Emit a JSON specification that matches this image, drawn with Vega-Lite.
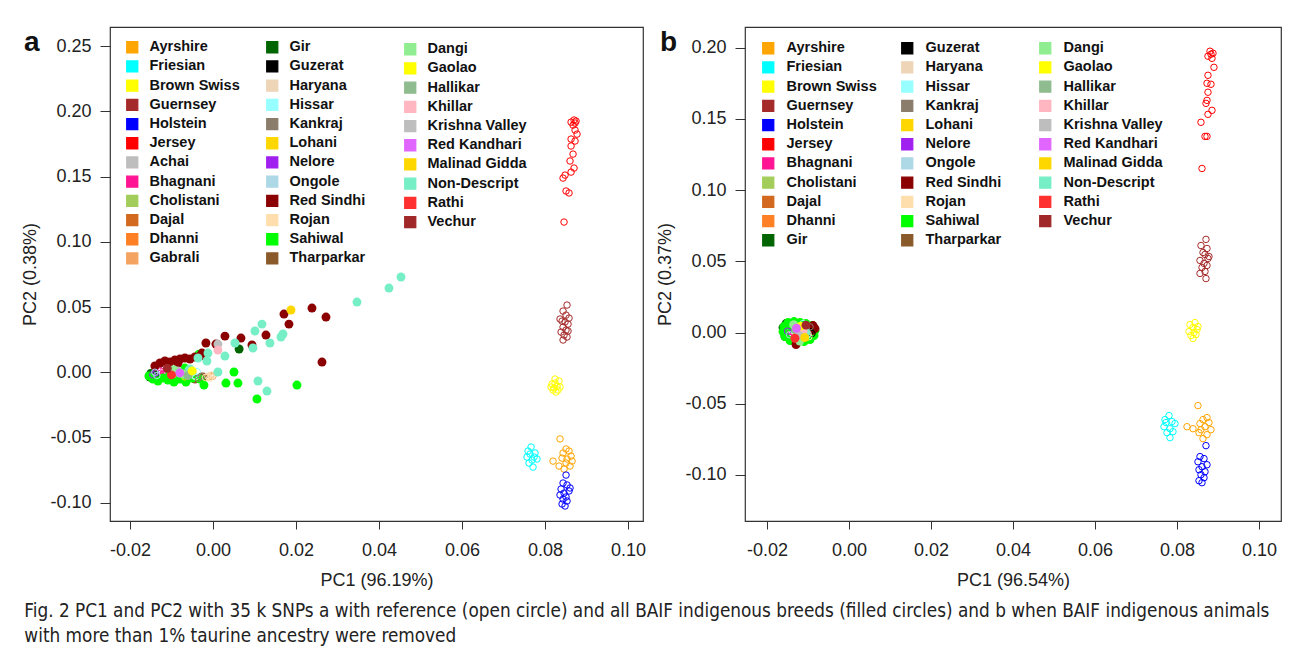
{
"$schema": "https://vega.github.io/schema/vega-lite/v6.json",
"padding": {"left": 21, "top": 26, "right": 8, "bottom": 2},
"background": "white",
"title": {"text": ["Fig. 2  PC1 and PC2 with 35 k SNPs a with reference (open circle) and all BAIF indigenous breeds (filled circles) and b when BAIF indigenous animals", "with more than 1% taurine ancestry were removed"], "orient": "bottom", "anchor": "start", "frame": "bounds", "dx": 3, "font": "'Liberation Sans Narrow', 'DejaVu Sans Condensed', 'Liberation Sans', sans-serif", "fontSize": 18.8, "fontWeight": "normal", "color": "#222", "offset": 12, "lineHeight": 25},
"datasets": {
"a": [
{"b":"Jersey","x":0.08699,"y":0.1933,"s":"r"},{"b":"Jersey","x":0.08747,"y":0.1925,"s":"r"},{"b":"Jersey","x":0.08627,"y":0.1917,"s":"r"},{"b":"Jersey","x":0.08723,"y":0.1910,"s":"r"},{"b":"Jersey","x":0.08675,"y":0.1894,"s":"r"},{"b":"Jersey","x":0.08771,"y":0.1825,"s":"r"},{"b":"Jersey","x":0.08723,"y":0.1856,"s":"r"},{"b":"Jersey","x":0.08627,"y":0.1787,"s":"r"},{"b":"Jersey","x":0.08723,"y":0.1772,"s":"r"},{"b":"Jersey","x":0.08627,"y":0.1734,"s":"r"},{"b":"Jersey","x":0.08675,"y":0.1672,"s":"r"},{"b":"Jersey","x":0.08602,"y":0.1619,"s":"r"},{"b":"Jersey","x":0.08699,"y":0.1565,"s":"r"},{"b":"Jersey","x":0.08627,"y":0.1534,"s":"r"},{"b":"Jersey","x":0.08482,"y":0.1511,"s":"r"},{"b":"Jersey","x":0.08434,"y":0.1488,"s":"r"},{"b":"Jersey","x":0.08506,"y":0.1389,"s":"r"},{"b":"Jersey","x":0.08578,"y":0.1374,"s":"r"},{"b":"Jersey","x":0.08458,"y":0.1151,"s":"r"},
{"b":"Guernsey","x":0.0853,"y":0.0515,"s":"r"},{"b":"Guernsey","x":0.08434,"y":0.0469,"s":"r"},{"b":"Guernsey","x":0.08506,"y":0.0438,"s":"r"},{"b":"Guernsey","x":0.08361,"y":0.0408,"s":"r"},{"b":"Guernsey","x":0.08578,"y":0.0415,"s":"r"},{"b":"Guernsey","x":0.08482,"y":0.0385,"s":"r"},{"b":"Guernsey","x":0.08554,"y":0.0369,"s":"r"},{"b":"Guernsey","x":0.0841,"y":0.0392,"s":"r"},{"b":"Guernsey","x":0.08434,"y":0.0346,"s":"r"},{"b":"Guernsey","x":0.08506,"y":0.0323,"s":"r"},{"b":"Guernsey","x":0.08386,"y":0.0308,"s":"r"},{"b":"Guernsey","x":0.08458,"y":0.0285,"s":"r"},{"b":"Guernsey","x":0.0853,"y":0.027,"s":"r"},{"b":"Guernsey","x":0.08434,"y":0.0247,"s":"r"},{"b":"Guernsey","x":0.08554,"y":0.0316,"s":"r"},
{"b":"Brown Swiss","x":0.08241,"y":-0.0052,"s":"r"},{"b":"Brown Swiss","x":0.08337,"y":-0.0067,"s":"r"},{"b":"Brown Swiss","x":0.08169,"y":-0.009,"s":"r"},{"b":"Brown Swiss","x":0.08289,"y":-0.0106,"s":"r"},{"b":"Brown Swiss","x":0.08217,"y":-0.0121,"s":"r"},{"b":"Brown Swiss","x":0.08313,"y":-0.0136,"s":"r"},{"b":"Brown Swiss","x":0.08145,"y":-0.0113,"s":"r"},{"b":"Brown Swiss","x":0.08265,"y":-0.0152,"s":"r"},{"b":"Brown Swiss","x":0.08193,"y":-0.0136,"s":"r"},{"b":"Brown Swiss","x":0.08361,"y":-0.0113,"s":"r"},{"b":"Brown Swiss","x":0.08241,"y":-0.0083,"s":"r"},
{"b":"Friesian","x":0.07663,"y":-0.0573,"s":"r"},{"b":"Friesian","x":0.0759,"y":-0.0604,"s":"r"},{"b":"Friesian","x":0.07759,"y":-0.0619,"s":"r"},{"b":"Friesian","x":0.07807,"y":-0.0665,"s":"r"},{"b":"Friesian","x":0.07566,"y":-0.065,"s":"r"},{"b":"Friesian","x":0.07687,"y":-0.0673,"s":"r"},{"b":"Friesian","x":0.07614,"y":-0.0696,"s":"r"},{"b":"Friesian","x":0.07711,"y":-0.0727,"s":"r"},{"b":"Friesian","x":0.07639,"y":-0.0627,"s":"r"},{"b":"Friesian","x":0.07735,"y":-0.065,"s":"r"},
{"b":"Ayrshire","x":0.08361,"y":-0.0511,"s":"r"},{"b":"Ayrshire","x":0.08506,"y":-0.0588,"s":"r"},{"b":"Ayrshire","x":0.08578,"y":-0.0604,"s":"r"},{"b":"Ayrshire","x":0.08434,"y":-0.0619,"s":"r"},{"b":"Ayrshire","x":0.08627,"y":-0.0642,"s":"r"},{"b":"Ayrshire","x":0.0841,"y":-0.0658,"s":"r"},{"b":"Ayrshire","x":0.0853,"y":-0.0665,"s":"r"},{"b":"Ayrshire","x":0.08193,"y":-0.0681,"s":"r"},{"b":"Ayrshire","x":0.08337,"y":-0.0719,"s":"r"},{"b":"Ayrshire","x":0.08506,"y":-0.0696,"s":"r"},{"b":"Ayrshire","x":0.08602,"y":-0.0719,"s":"r"},{"b":"Ayrshire","x":0.08458,"y":-0.0742,"s":"r"},{"b":"Ayrshire","x":0.08651,"y":-0.0681,"s":"r"},
{"b":"Holstein","x":0.08506,"y":-0.0788,"s":"r"},{"b":"Holstein","x":0.08434,"y":-0.0849,"s":"r"},{"b":"Holstein","x":0.0853,"y":-0.0864,"s":"r"},{"b":"Holstein","x":0.08386,"y":-0.0895,"s":"r"},{"b":"Holstein","x":0.08578,"y":-0.091,"s":"r"},{"b":"Holstein","x":0.08458,"y":-0.0926,"s":"r"},{"b":"Holstein","x":0.08361,"y":-0.0941,"s":"r"},{"b":"Holstein","x":0.08506,"y":-0.0956,"s":"r"},{"b":"Holstein","x":0.08434,"y":-0.0972,"s":"r"},{"b":"Holstein","x":0.0853,"y":-0.0987,"s":"r"},{"b":"Holstein","x":0.0841,"y":-0.101,"s":"r"},{"b":"Holstein","x":0.08482,"y":-0.1025,"s":"r"},{"b":"Holstein","x":0.08602,"y":-0.0887,"s":"r"},
{"b":"Bhagnani","x":-0.0127,"y":0.001,"s":"r"},{"b":"Bhagnani","x":-0.012,"y":-0.0013,"s":"r"},{"b":"Bhagnani","x":-0.0113,"y":0.0003,"s":"r"},{"b":"Bhagnani","x":-0.0125,"y":-0.003,"s":"r"},{"b":"Bhagnani","x":-0.0116,"y":-0.0037,"s":"r"},{"b":"Bhagnani","x":-0.0108,"y":0.0017,"s":"r"},{"b":"Bhagnani","x":-0.0132,"y":-0.0008,"s":"r"},{"b":"Bhagnani","x":-0.0118,"y":0.0025,"s":"r"},
{"b":"Achai","x":-0.01,"y":0.0005,"s":"r"},{"b":"Achai","x":-0.0092,"y":-0.002,"s":"r"},{"b":"Achai","x":-0.0105,"y":-0.0035,"s":"r"},
{"b":"Cholistani","x":-0.0085,"y":0.001,"s":"r"},{"b":"Cholistani","x":-0.0078,"y":-0.0015,"s":"r"},{"b":"Cholistani","x":-0.009,"y":-0.004,"s":"r"},{"b":"Cholistani","x":-0.007,"y":0.0005,"s":"r"},
{"b":"Dajal","x":-0.0095,"y":-0.001,"s":"r"},{"b":"Dajal","x":-0.0088,"y":0.0015,"s":"r"},
{"b":"Dhanni","x":-0.0082,"y":-0.003,"s":"r"},{"b":"Dhanni","x":-0.0075,"y":0.0,"s":"r"},
{"b":"Gabrali","x":-0.001,"y":-0.0035,"s":"r"},{"b":"Gabrali","x":-0.0005,"y":-0.0025,"s":"r"},{"b":"Gabrali","x":0.0,"y":-0.003,"s":"r"},
{"b":"Guzerat","x":-0.0065,"y":-0.001,"s":"r"},{"b":"Guzerat","x":-0.006,"y":0.0008,"s":"r"},
{"b":"Haryana","x":-0.0055,"y":-0.002,"s":"r"},{"b":"Haryana","x":-0.0048,"y":0.0002,"s":"r"},{"b":"Haryana","x":-0.0042,"y":-0.0035,"s":"r"},
{"b":"Hissar","x":-0.006,"y":0.0015,"s":"r"},{"b":"Hissar","x":-0.005,"y":-0.0005,"s":"r"},{"b":"Hissar","x":-0.0038,"y":0.0005,"s":"r"},{"b":"Hissar","x":-0.0045,"y":-0.0025,"s":"r"},
{"b":"Kankraj","x":-0.0035,"y":-0.0045,"s":"r"},{"b":"Kankraj","x":-0.0028,"y":-0.003,"s":"r"},
{"b":"Lohani","x":-0.0068,"y":-0.0035,"s":"r"},
{"b":"Nelore","x":-0.0145,"y":-0.002,"s":"r"},{"b":"Nelore","x":-0.0138,"y":-0.0005,"s":"r"},
{"b":"Ongole","x":-0.014,"y":0.0,"s":"r"},{"b":"Ongole","x":-0.0135,"y":-0.0025,"s":"r"},
{"b":"Rojan","x":-0.0012,"y":-0.003,"s":"r"},{"b":"Rojan","x":-0.0018,"y":-0.004,"s":"r"},{"b":"Rojan","x":-0.0004,"y":-0.0022,"s":"r"},{"b":"Rojan","x":-0.0008,"y":-0.0045,"s":"r"},
{"b":"Tharparkar","x":-0.0043,"y":-0.0052,"s":"f"},{"b":"Tharparkar","x":-0.0024,"y":-0.0037,"s":"f"},
{"b":"Gir","x":-0.0152,"y":-0.0037,"s":"f"},{"b":"Gir","x":-0.014,"y":-0.002,"s":"f"},{"b":"Gir","x":-0.0067,"y":-0.006,"s":"f"},{"b":"Gir","x":0.0063,"y":0.0178,"s":"f"},{"b":"Gir","x":-0.015,"y":-0.001,"s":"f"},
{"b":"Sahiwal","x":-0.01542,"y":-0.0029,"s":"f"},{"b":"Sahiwal","x":-0.01446,"y":-0.0052,"s":"f"},{"b":"Sahiwal","x":-0.01325,"y":-0.0067,"s":"f"},{"b":"Sahiwal","x":-0.01205,"y":-0.0044,"s":"f"},{"b":"Sahiwal","x":-0.01084,"y":-0.006,"s":"f"},{"b":"Sahiwal","x":-0.0094,"y":-0.0075,"s":"f"},{"b":"Sahiwal","x":-0.00795,"y":-0.0052,"s":"f"},{"b":"Sahiwal","x":-0.00651,"y":-0.0075,"s":"f"},{"b":"Sahiwal","x":-0.00506,"y":-0.0044,"s":"f"},{"b":"Sahiwal","x":-0.00337,"y":0.0139,"s":"f"},{"b":"Sahiwal","x":0.00506,"y":0.0002,"s":"f"},{"b":"Sahiwal","x":0.00313,"y":-0.0083,"s":"f"},{"b":"Sahiwal","x":0.00602,"y":-0.0083,"s":"f"},{"b":"Sahiwal","x":-0.00217,"y":-0.0098,"s":"f"},{"b":"Sahiwal","x":0.0106,"y":-0.0205,"s":"f"},{"b":"Sahiwal","x":0.02024,"y":-0.0098,"s":"f"},{"b":"Sahiwal","x":-0.00313,"y":-0.0052,"s":"f"},{"b":"Sahiwal","x":-0.01036,"y":-0.0006,"s":"f"},{"b":"Sahiwal","x":-0.00675,"y":0.0032,"s":"f"},
{"b":"Red Sindhi","x":-0.01277,"y":0.0071,"s":"f"},{"b":"Red Sindhi","x":-0.01157,"y":0.0086,"s":"f"},{"b":"Red Sindhi","x":-0.01036,"y":0.0078,"s":"f"},{"b":"Red Sindhi","x":-0.00916,"y":0.0094,"s":"f"},{"b":"Red Sindhi","x":-0.00795,"y":0.0101,"s":"f"},{"b":"Red Sindhi","x":-0.00675,"y":0.0109,"s":"f"},{"b":"Red Sindhi","x":-0.00554,"y":0.0101,"s":"f"},{"b":"Red Sindhi","x":-0.00434,"y":0.0117,"s":"f"},{"b":"Red Sindhi","x":-0.00313,"y":0.0124,"s":"f"},{"b":"Red Sindhi","x":-0.00169,"y":0.0224,"s":"f"},{"b":"Red Sindhi","x":0.00072,"y":0.0216,"s":"f"},{"b":"Red Sindhi","x":-0.00265,"y":0.0147,"s":"f"},{"b":"Red Sindhi","x":0.00289,"y":0.0277,"s":"f"},{"b":"Red Sindhi","x":0.00675,"y":0.0262,"s":"f"},{"b":"Red Sindhi","x":0.0094,"y":0.0209,"s":"f"},{"b":"Red Sindhi","x":0.01277,"y":0.0285,"s":"f"},{"b":"Red Sindhi","x":0.01711,"y":0.0446,"s":"f"},{"b":"Red Sindhi","x":0.01831,"y":0.0369,"s":"f"},{"b":"Red Sindhi","x":0.02386,"y":0.0492,"s":"f"},{"b":"Red Sindhi","x":0.02723,"y":0.0423,"s":"f"},{"b":"Red Sindhi","x":0.02627,"y":0.0078,"s":"f"},{"b":"Red Sindhi","x":-0.01398,"y":0.0048,"s":"f"},{"b":"Red Sindhi","x":-0.00843,"y":0.0071,"s":"f"},
{"b":"Non-Descript","x":0.0453,"y":0.073,"s":"f"},{"b":"Non-Descript","x":0.0424,"y":0.0645,"s":"f"},{"b":"Non-Descript","x":0.0347,"y":0.0538,"s":"f"},{"b":"Non-Descript","x":0.01687,"y":0.0293,"s":"f"},{"b":"Non-Descript","x":0.01639,"y":0.027,"s":"f"},{"b":"Non-Descript","x":0.01181,"y":0.0369,"s":"f"},{"b":"Non-Descript","x":0.01012,"y":0.0316,"s":"f"},{"b":"Non-Descript","x":0.01373,"y":0.0224,"s":"f"},{"b":"Non-Descript","x":0.00964,"y":0.0186,"s":"f"},{"b":"Non-Descript","x":0.0053,"y":0.0224,"s":"f"},{"b":"Non-Descript","x":0.00289,"y":0.0124,"s":"f"},{"b":"Non-Descript","x":-0.0012,"y":0.0147,"s":"f"},{"b":"Non-Descript","x":-0.00145,"y":0.0086,"s":"f"},{"b":"Non-Descript","x":-0.00361,"y":0.0109,"s":"f"},{"b":"Non-Descript","x":0.0012,"y":0.0002,"s":"f"},{"b":"Non-Descript","x":0.01084,"y":-0.0067,"s":"f"},{"b":"Non-Descript","x":0.01301,"y":-0.0144,"s":"f"},{"b":"Non-Descript","x":-0.00554,"y":0.0025,"s":"f"},{"b":"Non-Descript","x":-0.00795,"y":-0.0006,"s":"f"},
{"b":"Krishna Valley","x":0.0012,"y":0.0216,"s":"f"},{"b":"Krishna Valley","x":-0.0085,"y":0.001,"s":"f"},
{"b":"Khillar","x":0.0012,"y":0.017,"s":"f"},
{"b":"Malinad Gidda","x":0.0188,"y":0.0477,"s":"f"},
{"b":"Dangi","x":-0.007,"y":-0.0015,"s":"f"},{"b":"Dangi","x":-0.0095,"y":0.002,"s":"f"},
{"b":"Hallikar","x":-0.006,"y":-0.0025,"s":"f"},
{"b":"Gaolao","x":-0.005,"y":0.001,"s":"f"},
{"b":"Red Kandhari","x":-0.008,"y":-0.0005,"s":"f"},
{"b":"Rathi","x":-0.01,"y":-0.002,"s":"f"},
{"b":"Vechur","x":-0.011,"y":0.003,"s":"f"}
],
"b": [
{"b":"Jersey","x":0.08829,"y":0.1954,"s":"r"},{"b":"Jersey","x":0.08878,"y":0.1961,"s":"r"},{"b":"Jersey","x":0.08756,"y":0.194,"s":"r"},{"b":"Jersey","x":0.08854,"y":0.1925,"s":"r"},{"b":"Jersey","x":0.08805,"y":0.1975,"s":"r"},{"b":"Jersey","x":0.08902,"y":0.1862,"s":"r"},{"b":"Jersey","x":0.08756,"y":0.1806,"s":"r"},{"b":"Jersey","x":0.08732,"y":0.175,"s":"r"},{"b":"Jersey","x":0.08829,"y":0.1743,"s":"r"},{"b":"Jersey","x":0.08756,"y":0.1687,"s":"r"},{"b":"Jersey","x":0.08732,"y":0.163,"s":"r"},{"b":"Jersey","x":0.08707,"y":0.1609,"s":"r"},{"b":"Jersey","x":0.08854,"y":0.156,"s":"r"},{"b":"Jersey","x":0.08756,"y":0.1532,"s":"r"},{"b":"Jersey","x":0.08585,"y":0.1476,"s":"r"},{"b":"Jersey","x":0.08683,"y":0.1377,"s":"r"},{"b":"Jersey","x":0.08732,"y":0.1377,"s":"r"},{"b":"Jersey","x":0.0861,"y":0.1152,"s":"r"},
{"b":"Guernsey","x":0.08707,"y":0.0654,"s":"r"},{"b":"Guernsey","x":0.08585,"y":0.0611,"s":"r"},{"b":"Guernsey","x":0.08732,"y":0.059,"s":"r"},{"b":"Guernsey","x":0.08634,"y":0.0562,"s":"r"},{"b":"Guernsey","x":0.08683,"y":0.0548,"s":"r"},{"b":"Guernsey","x":0.0878,"y":0.0534,"s":"r"},{"b":"Guernsey","x":0.08756,"y":0.052,"s":"r"},{"b":"Guernsey","x":0.08561,"y":0.0506,"s":"r"},{"b":"Guernsey","x":0.08659,"y":0.0485,"s":"r"},{"b":"Guernsey","x":0.08732,"y":0.0471,"s":"r"},{"b":"Guernsey","x":0.0861,"y":0.0457,"s":"r"},{"b":"Guernsey","x":0.08683,"y":0.0429,"s":"r"},{"b":"Guernsey","x":0.08561,"y":0.0415,"s":"r"},{"b":"Guernsey","x":0.08707,"y":0.0379,"s":"r"},
{"b":"Brown Swiss","x":0.08317,"y":0.0056,"s":"r"},{"b":"Brown Swiss","x":0.08439,"y":0.007,"s":"r"},{"b":"Brown Swiss","x":0.0839,"y":0.0035,"s":"r"},{"b":"Brown Swiss","x":0.08488,"y":0.0021,"s":"r"},{"b":"Brown Swiss","x":0.08293,"y":0.0007,"s":"r"},{"b":"Brown Swiss","x":0.08415,"y":0.0,"s":"r"},{"b":"Brown Swiss","x":0.08341,"y":-0.0021,"s":"r"},{"b":"Brown Swiss","x":0.08463,"y":-0.0014,"s":"r"},{"b":"Brown Swiss","x":0.0839,"y":-0.0042,"s":"r"},{"b":"Brown Swiss","x":0.08512,"y":0.0042,"s":"r"},
{"b":"Friesian","x":0.07805,"y":-0.0583,"s":"r"},{"b":"Friesian","x":0.07707,"y":-0.0611,"s":"r"},{"b":"Friesian","x":0.07878,"y":-0.0625,"s":"r"},{"b":"Friesian","x":0.07951,"y":-0.0639,"s":"r"},{"b":"Friesian","x":0.07683,"y":-0.0661,"s":"r"},{"b":"Friesian","x":0.07829,"y":-0.0675,"s":"r"},{"b":"Friesian","x":0.07756,"y":-0.0703,"s":"r"},{"b":"Friesian","x":0.07902,"y":-0.0696,"s":"r"},{"b":"Friesian","x":0.07829,"y":-0.0738,"s":"r"},{"b":"Friesian","x":0.07732,"y":-0.0632,"s":"r"},
{"b":"Ayrshire","x":0.08512,"y":-0.0513,"s":"r"},{"b":"Ayrshire","x":0.08634,"y":-0.0611,"s":"r"},{"b":"Ayrshire","x":0.08732,"y":-0.0597,"s":"r"},{"b":"Ayrshire","x":0.08561,"y":-0.0639,"s":"r"},{"b":"Ayrshire","x":0.08829,"y":-0.0682,"s":"r"},{"b":"Ayrshire","x":0.08683,"y":-0.0661,"s":"r"},{"b":"Ayrshire","x":0.0839,"y":-0.0675,"s":"r"},{"b":"Ayrshire","x":0.08537,"y":-0.0703,"s":"r"},{"b":"Ayrshire","x":0.08732,"y":-0.0717,"s":"r"},{"b":"Ayrshire","x":0.08634,"y":-0.0745,"s":"r"},{"b":"Ayrshire","x":0.0878,"y":-0.0632,"s":"r"},{"b":"Ayrshire","x":0.08585,"y":-0.0682,"s":"r"},{"b":"Ayrshire","x":0.08244,"y":-0.0661,"s":"r"},
{"b":"Holstein","x":0.08707,"y":-0.0794,"s":"r"},{"b":"Holstein","x":0.08561,"y":-0.0871,"s":"r"},{"b":"Holstein","x":0.08659,"y":-0.0885,"s":"r"},{"b":"Holstein","x":0.08512,"y":-0.0907,"s":"r"},{"b":"Holstein","x":0.08732,"y":-0.0928,"s":"r"},{"b":"Holstein","x":0.0861,"y":-0.0942,"s":"r"},{"b":"Holstein","x":0.08537,"y":-0.0963,"s":"r"},{"b":"Holstein","x":0.08683,"y":-0.0977,"s":"r"},{"b":"Holstein","x":0.08585,"y":-0.0998,"s":"r"},{"b":"Holstein","x":0.08659,"y":-0.1019,"s":"r"},{"b":"Holstein","x":0.08537,"y":-0.104,"s":"r"},{"b":"Holstein","x":0.0861,"y":-0.1054,"s":"r"},
{"b":"Bhagnani","x":-0.01366,"y":0.0035,"s":"r"},{"b":"Bhagnani","x":-0.01293,"y":0.0014,"s":"r"},{"b":"Bhagnani","x":-0.0122,"y":0.0049,"s":"r"},{"b":"Bhagnani","x":-0.01341,"y":-0.0007,"s":"r"},{"b":"Bhagnani","x":-0.01268,"y":-0.0028,"s":"r"},{"b":"Bhagnani","x":-0.01195,"y":0.0007,"s":"r"},{"b":"Bhagnani","x":-0.01415,"y":0.0007,"s":"r"},
{"b":"Cholistani","x":-0.014,"y":0.005,"s":"r"},{"b":"Cholistani","x":-0.011,"y":-0.004,"s":"r"},
{"b":"Dajal","x":-0.0125,"y":0.006,"s":"r"},
{"b":"Dhanni","x":-0.0118,"y":-0.005,"s":"r"},
{"b":"Gir","x":-0.0161,"y":0.0035,"s":"f"},{"b":"Gir","x":-0.01585,"y":0.0,"s":"f"},{"b":"Gir","x":-0.01537,"y":0.0063,"s":"f"},{"b":"Gir","x":-0.01561,"y":-0.0028,"s":"f"},
{"b":"Guzerat","x":-0.00951,"y":0.0007,"s":"r"},{"b":"Guzerat","x":-0.00902,"y":-0.0007,"s":"r"},
{"b":"Haryana","x":-0.0105,"y":0.003,"s":"r"},{"b":"Haryana","x":-0.01,"y":-0.001,"s":"r"},
{"b":"Hissar","x":-0.01073,"y":0.0021,"s":"r"},{"b":"Hissar","x":-0.01024,"y":-0.0021,"s":"r"},{"b":"Hissar","x":-0.01122,"y":0.0063,"s":"r"},
{"b":"Kankraj","x":-0.0095,"y":0.004,"s":"r"},
{"b":"Lohani","x":-0.0128,"y":0.0,"s":"r"},
{"b":"Nelore","x":-0.015,"y":0.001,"s":"r"},
{"b":"Ongole","x":-0.0145,"y":-0.0015,"s":"r"},{"b":"Ongole","x":-0.0108,"y":0.0,"s":"r"},
{"b":"Rojan","x":-0.0098,"y":-0.003,"s":"r"},
{"b":"Sahiwal","x":-0.01585,"y":0.0042,"s":"f"},{"b":"Sahiwal","x":-0.01488,"y":0.007,"s":"f"},{"b":"Sahiwal","x":-0.01341,"y":0.0077,"s":"f"},{"b":"Sahiwal","x":-0.01195,"y":0.007,"s":"f"},{"b":"Sahiwal","x":-0.01049,"y":0.0063,"s":"f"},{"b":"Sahiwal","x":-0.00902,"y":0.0049,"s":"f"},{"b":"Sahiwal","x":-0.0083,"y":0.0014,"s":"f"},{"b":"Sahiwal","x":-0.00854,"y":-0.0021,"s":"f"},{"b":"Sahiwal","x":-0.00951,"y":-0.0049,"s":"f"},{"b":"Sahiwal","x":-0.01098,"y":-0.0063,"s":"f"},{"b":"Sahiwal","x":-0.01268,"y":-0.007,"s":"f"},{"b":"Sahiwal","x":-0.01439,"y":-0.0056,"s":"f"},{"b":"Sahiwal","x":-0.01561,"y":-0.0028,"s":"f"},{"b":"Sahiwal","x":-0.0161,"y":0.0007,"s":"f"},{"b":"Sahiwal","x":-0.01244,"y":0.0,"s":"f"},{"b":"Sahiwal","x":-0.01122,"y":0.0035,"s":"f"},{"b":"Sahiwal","x":-0.01,"y":-0.0014,"s":"f"},{"b":"Sahiwal","x":-0.0139,"y":0.0028,"s":"f"},
{"b":"Red Sindhi","x":-0.00878,"y":0.0049,"s":"f"},{"b":"Red Sindhi","x":-0.0083,"y":0.0028,"s":"f"},{"b":"Red Sindhi","x":-0.01293,"y":-0.0084,"s":"f"},{"b":"Red Sindhi","x":-0.00902,"y":0.0014,"s":"f"},
{"b":"Tharparkar","x":-0.0115,"y":0.002,"s":"f"},
{"b":"Non-Descript","x":-0.01171,"y":0.0042,"s":"f"},{"b":"Non-Descript","x":-0.01049,"y":0.0,"s":"f"},
{"b":"Dangi","x":-0.0135,"y":0.0055,"s":"f"},{"b":"Dangi","x":-0.012,"y":-0.006,"s":"f"},
{"b":"Hallikar","x":-0.013,"y":0.002,"s":"f"},
{"b":"Khillar","x":-0.0112,"y":0.001,"s":"f"},
{"b":"Krishna Valley","x":-0.0122,"y":-0.002,"s":"f"},
{"b":"Gaolao","x":-0.0118,"y":0.0045,"s":"f"},
{"b":"Red Kandhari","x":-0.0128,"y":0.003,"s":"f"},
{"b":"Malinad Gidda","x":-0.0108,"y":-0.0035,"s":"f"},
{"b":"Rathi","x":-0.0132,"y":-0.004,"s":"f"},
{"b":"Vechur","x":-0.0105,"y":0.0052,"s":"f"}
]
},
"hconcat": [
{
"width": 533, "height": 494,
"title": {"text": "a", "anchor": "start", "frame": "group", "orient": "top", "dx": -86, "dy": 52, "offset": 0, "baseline": "alphabetic", "font": "Liberation Sans", "fontSize": 28, "fontWeight": "bold", "color": "#111"},
"data": {"name": "a"},
"encoding": {
"x": {"field": "x", "type": "quantitative", "scale": {"domain": [-0.0248, 0.1036], "nice": false, "zero": false}, "axis": {"values": [-0.02, 0, 0.02, 0.04, 0.06, 0.08, 0.1], "labelExpr": "replace(format(datum.value, '.2f'), '\u2212', '-')", "title": "PC1 (96.19%)"}},
"y": {"field": "y", "type": "quantitative", "scale": {"domain": [-0.114, 0.2646], "nice": false, "zero": false}, "axis": {"values": [-0.1, -0.05, 0, 0.05, 0.1, 0.15, 0.2, 0.25], "labelExpr": "replace(format(datum.value, '.2f'), '\u2212', '-')", "title": "PC2 (0.38%)"}}
},
"layer": [
{"layer": [
 {"transform": [{"filter": {"and": [{"field": "b", "oneOf": ["Ayrshire","Friesian","Brown Swiss","Guernsey","Holstein","Jersey","Achai","Bhagnani","Cholistani","Dajal","Dhanni","Gabrali"]}, {"field": "s", "equal": "f"}]}}],
  "mark": {"type": "point", "shape": "circle", "filled": true, "size": 80, "opacity": 1},
  "encoding": {"fill": {"field": "b", "type": "nominal", "scale": {"domain": ["Ayrshire","Friesian","Brown Swiss","Guernsey","Holstein","Jersey","Achai","Bhagnani","Cholistani","Dajal","Dhanni","Gabrali"], "range": ["#FFA500","#00FFFF","#FFFF00","#A52A2A","#0000FF","#FF0000","#BEBEBE","#FF1493","#A2CD5A","#D2691E","#FF7F24","#F4A460"]}, "legend": {"legendX": 15, "legendY": 13, "symbolStrokeColor": "#000", "symbolStrokeWidth": 1.3}}}},
 {"transform": [{"filter": {"and": [{"field": "b", "oneOf": ["Ayrshire","Friesian","Brown Swiss","Guernsey","Holstein","Jersey","Achai","Bhagnani","Cholistani","Dajal","Dhanni","Gabrali"]}, {"field": "s", "equal": "r"}]}}],
  "mark": {"type": "point", "shape": "circle", "filled": false, "size": 42, "opacity": 1, "strokeWidth": 1},
  "encoding": {"stroke": {"field": "b", "type": "nominal", "scale": {"domain": ["Ayrshire","Friesian","Brown Swiss","Guernsey","Holstein","Jersey","Achai","Bhagnani","Cholistani","Dajal","Dhanni","Gabrali"], "range": ["#FFA500","#00FFFF","#FFFF00","#A52A2A","#0000FF","#FF0000","#BEBEBE","#FF1493","#A2CD5A","#D2691E","#FF7F24","#F4A460"]}, "legend": null}}}
]},
{"layer": [
 {"transform": [{"filter": {"and": [{"field": "b", "oneOf": ["Gir","Guzerat","Haryana","Hissar","Kankraj","Lohani","Nelore","Ongole","Red Sindhi","Rojan","Sahiwal","Tharparkar"]}, {"field": "s", "equal": "f"}]}}],
  "mark": {"type": "point", "shape": "circle", "filled": true, "size": 80, "opacity": 1},
  "encoding": {"fill": {"field": "b", "type": "nominal", "scale": {"domain": ["Gir","Guzerat","Haryana","Hissar","Kankraj","Lohani","Nelore","Ongole","Red Sindhi","Rojan","Sahiwal","Tharparkar"], "range": ["#006400","#000000","#EED5B7","#97FFFF","#8B7D6B","#FFD700","#A020F0","#ADD8E6","#8B0000","#FFDEAD","#00FF00","#8B5A2B"]}, "legend": {"legendX": 155, "legendY": 13, "symbolStrokeColor": "#000", "symbolStrokeWidth": 1.3}}}},
 {"transform": [{"filter": {"and": [{"field": "b", "oneOf": ["Gir","Guzerat","Haryana","Hissar","Kankraj","Lohani","Nelore","Ongole","Red Sindhi","Rojan","Sahiwal","Tharparkar"]}, {"field": "s", "equal": "r"}]}}],
  "mark": {"type": "point", "shape": "circle", "filled": false, "size": 42, "opacity": 1, "strokeWidth": 1},
  "encoding": {"stroke": {"field": "b", "type": "nominal", "scale": {"domain": ["Gir","Guzerat","Haryana","Hissar","Kankraj","Lohani","Nelore","Ongole","Red Sindhi","Rojan","Sahiwal","Tharparkar"], "range": ["#006400","#000000","#EED5B7","#97FFFF","#8B7D6B","#FFD700","#A020F0","#ADD8E6","#8B0000","#FFDEAD","#00FF00","#8B5A2B"]}, "legend": null}}}
]},
{"layer": [
 {"transform": [{"filter": {"and": [{"field": "b", "oneOf": ["Dangi","Gaolao","Hallikar","Khillar","Krishna Valley","Red Kandhari","Malinad Gidda","Non-Descript","Rathi","Vechur"]}, {"field": "s", "equal": "f"}]}}],
  "mark": {"type": "point", "shape": "circle", "filled": true, "size": 80, "opacity": 1},
  "encoding": {"fill": {"field": "b", "type": "nominal", "scale": {"domain": ["Dangi","Gaolao","Hallikar","Khillar","Krishna Valley","Red Kandhari","Malinad Gidda","Non-Descript","Rathi","Vechur"], "range": ["#90EE90","#FFFF00","#8FBC8F","#FFB6C1","#BEBEBE","#E066FF","#FFD700","#76EEC6","#FF3030","#A02828"]}, "legend": {"legendX": 293, "legendY": 15, "symbolStrokeColor": "#000", "symbolStrokeWidth": 1.3}}}},
 {"transform": [{"filter": {"and": [{"field": "b", "oneOf": ["Dangi","Gaolao","Hallikar","Khillar","Krishna Valley","Red Kandhari","Malinad Gidda","Non-Descript","Rathi","Vechur"]}, {"field": "s", "equal": "r"}]}}],
  "mark": {"type": "point", "shape": "circle", "filled": false, "size": 42, "opacity": 1, "strokeWidth": 1},
  "encoding": {"stroke": {"field": "b", "type": "nominal", "scale": {"domain": ["Dangi","Gaolao","Hallikar","Khillar","Krishna Valley","Red Kandhari","Malinad Gidda","Non-Descript","Rathi","Vechur"], "range": ["#90EE90","#FFFF00","#8FBC8F","#FFB6C1","#BEBEBE","#E066FF","#FFD700","#76EEC6","#FF3030","#A02828"]}, "legend": null}}}
]}
],
"resolve": {"scale": {"fill": "independent", "stroke": "independent"}}
},
{
"width": 536, "height": 494,
"title": {"text": "b", "anchor": "start", "frame": "group", "orient": "top", "dx": -85, "dy": 52, "offset": 0, "baseline": "alphabetic", "font": "Liberation Sans", "fontSize": 28, "fontWeight": "bold", "color": "#111"},
"data": {"name": "b"},
"encoding": {
"x": {"field": "x", "type": "quantitative", "scale": {"domain": [-0.02537, 0.10537], "nice": false, "zero": false}, "axis": {"values": [-0.02, 0, 0.02, 0.04, 0.06, 0.08, 0.1], "labelExpr": "replace(format(datum.value, '.2f'), '\u2212', '-')", "title": "PC1 (96.54%)"}},
"y": {"field": "y", "type": "quantitative", "scale": {"domain": [-0.1323, 0.2145], "nice": false, "zero": false}, "axis": {"values": [-0.1, -0.05, 0, 0.05, 0.1, 0.15, 0.2], "labelExpr": "replace(format(datum.value, '.2f'), '\u2212', '-')", "title": "PC2 (0.37%)"}}
},
"layer": [
{"layer": [
 {"transform": [{"filter": {"and": [{"field": "b", "oneOf": ["Ayrshire","Friesian","Brown Swiss","Guernsey","Holstein","Jersey","Bhagnani","Cholistani","Dajal","Dhanni","Gir"]}, {"field": "s", "equal": "f"}]}}],
  "mark": {"type": "point", "shape": "circle", "filled": true, "size": 80, "opacity": 1},
  "encoding": {"fill": {"field": "b", "type": "nominal", "scale": {"domain": ["Ayrshire","Friesian","Brown Swiss","Guernsey","Holstein","Jersey","Bhagnani","Cholistani","Dajal","Dhanni","Gir"], "range": ["#FFA500","#00FFFF","#FFFF00","#A52A2A","#0000FF","#FF0000","#FF1493","#A2CD5A","#D2691E","#FF7F24","#006400"]}, "legend": {"legendX": 16, "legendY": 14, "labelOffset": 11, "symbolStrokeColor": "#000", "symbolStrokeWidth": 1.3}}}},
 {"transform": [{"filter": {"and": [{"field": "b", "oneOf": ["Ayrshire","Friesian","Brown Swiss","Guernsey","Holstein","Jersey","Bhagnani","Cholistani","Dajal","Dhanni","Gir"]}, {"field": "s", "equal": "r"}]}}],
  "mark": {"type": "point", "shape": "circle", "filled": false, "size": 42, "opacity": 1, "strokeWidth": 1},
  "encoding": {"stroke": {"field": "b", "type": "nominal", "scale": {"domain": ["Ayrshire","Friesian","Brown Swiss","Guernsey","Holstein","Jersey","Bhagnani","Cholistani","Dajal","Dhanni","Gir"], "range": ["#FFA500","#00FFFF","#FFFF00","#A52A2A","#0000FF","#FF0000","#FF1493","#A2CD5A","#D2691E","#FF7F24","#006400"]}, "legend": null}}}
]},
{"layer": [
 {"transform": [{"filter": {"and": [{"field": "b", "oneOf": ["Guzerat","Haryana","Hissar","Kankraj","Lohani","Nelore","Ongole","Red Sindhi","Rojan","Sahiwal","Tharparkar"]}, {"field": "s", "equal": "f"}]}}],
  "mark": {"type": "point", "shape": "circle", "filled": true, "size": 80, "opacity": 1},
  "encoding": {"fill": {"field": "b", "type": "nominal", "scale": {"domain": ["Guzerat","Haryana","Hissar","Kankraj","Lohani","Nelore","Ongole","Red Sindhi","Rojan","Sahiwal","Tharparkar"], "range": ["#000000","#EED5B7","#97FFFF","#8B7D6B","#FFD700","#A020F0","#ADD8E6","#8B0000","#FFDEAD","#00FF00","#8B5A2B"]}, "legend": {"legendX": 155, "legendY": 14, "labelOffset": 11, "symbolStrokeColor": "#000", "symbolStrokeWidth": 1.3}}}},
 {"transform": [{"filter": {"and": [{"field": "b", "oneOf": ["Guzerat","Haryana","Hissar","Kankraj","Lohani","Nelore","Ongole","Red Sindhi","Rojan","Sahiwal","Tharparkar"]}, {"field": "s", "equal": "r"}]}}],
  "mark": {"type": "point", "shape": "circle", "filled": false, "size": 42, "opacity": 1, "strokeWidth": 1},
  "encoding": {"stroke": {"field": "b", "type": "nominal", "scale": {"domain": ["Guzerat","Haryana","Hissar","Kankraj","Lohani","Nelore","Ongole","Red Sindhi","Rojan","Sahiwal","Tharparkar"], "range": ["#000000","#EED5B7","#97FFFF","#8B7D6B","#FFD700","#A020F0","#ADD8E6","#8B0000","#FFDEAD","#00FF00","#8B5A2B"]}, "legend": null}}}
]},
{"layer": [
 {"transform": [{"filter": {"and": [{"field": "b", "oneOf": ["Dangi","Gaolao","Hallikar","Khillar","Krishna Valley","Red Kandhari","Malinad Gidda","Non-Descript","Rathi","Vechur"]}, {"field": "s", "equal": "f"}]}}],
  "mark": {"type": "point", "shape": "circle", "filled": true, "size": 80, "opacity": 1},
  "encoding": {"fill": {"field": "b", "type": "nominal", "scale": {"domain": ["Dangi","Gaolao","Hallikar","Khillar","Krishna Valley","Red Kandhari","Malinad Gidda","Non-Descript","Rathi","Vechur"], "range": ["#90EE90","#FFFF00","#8FBC8F","#FFB6C1","#BEBEBE","#E066FF","#FFD700","#76EEC6","#FF3030","#A02828"]}, "legend": {"legendX": 293, "legendY": 14, "labelOffset": 11, "symbolStrokeColor": "#000", "symbolStrokeWidth": 1.3}}}},
 {"transform": [{"filter": {"and": [{"field": "b", "oneOf": ["Dangi","Gaolao","Hallikar","Khillar","Krishna Valley","Red Kandhari","Malinad Gidda","Non-Descript","Rathi","Vechur"]}, {"field": "s", "equal": "r"}]}}],
  "mark": {"type": "point", "shape": "circle", "filled": false, "size": 42, "opacity": 1, "strokeWidth": 1},
  "encoding": {"stroke": {"field": "b", "type": "nominal", "scale": {"domain": ["Dangi","Gaolao","Hallikar","Khillar","Krishna Valley","Red Kandhari","Malinad Gidda","Non-Descript","Rathi","Vechur"], "range": ["#90EE90","#FFFF00","#8FBC8F","#FFB6C1","#BEBEBE","#E066FF","#FFD700","#76EEC6","#FF3030","#A02828"]}, "legend": null}}}
]}
],
"resolve": {"scale": {"fill": "independent", "stroke": "independent"}}
}
],
"spacing": 9,
"config": {
"view": {"stroke": "#333", "strokeWidth": 1.2},
"axis": {"labelFont": "Liberation Sans", "labelFontSize": 18, "labelColor": "#222", "titleFont": "Liberation Sans", "titleFontSize": 18, "titleFontWeight": "normal", "titleColor": "#222", "domain": false, "tickColor": "#333", "tickSize": 10, "grid": false, "labelPadding": 9, "titlePadding": 10},
"axisX": {"tickSize": 8, "labelPadding": 12, "titlePadding": 12},
"legend": {"orient": "none", "title": null, "symbolType": "square", "symbolSize": 121, "symbolStrokeColor": "#000", "symbolStrokeWidth": 1.3, "labelFont": "Liberation Sans", "labelFontSize": 14.5, "labelFontWeight": "bold", "labelColor": "#111", "labelOffset": 10, "rowPadding": 2.2, "padding": 0, "symbolOpacity": 1}
}
}
